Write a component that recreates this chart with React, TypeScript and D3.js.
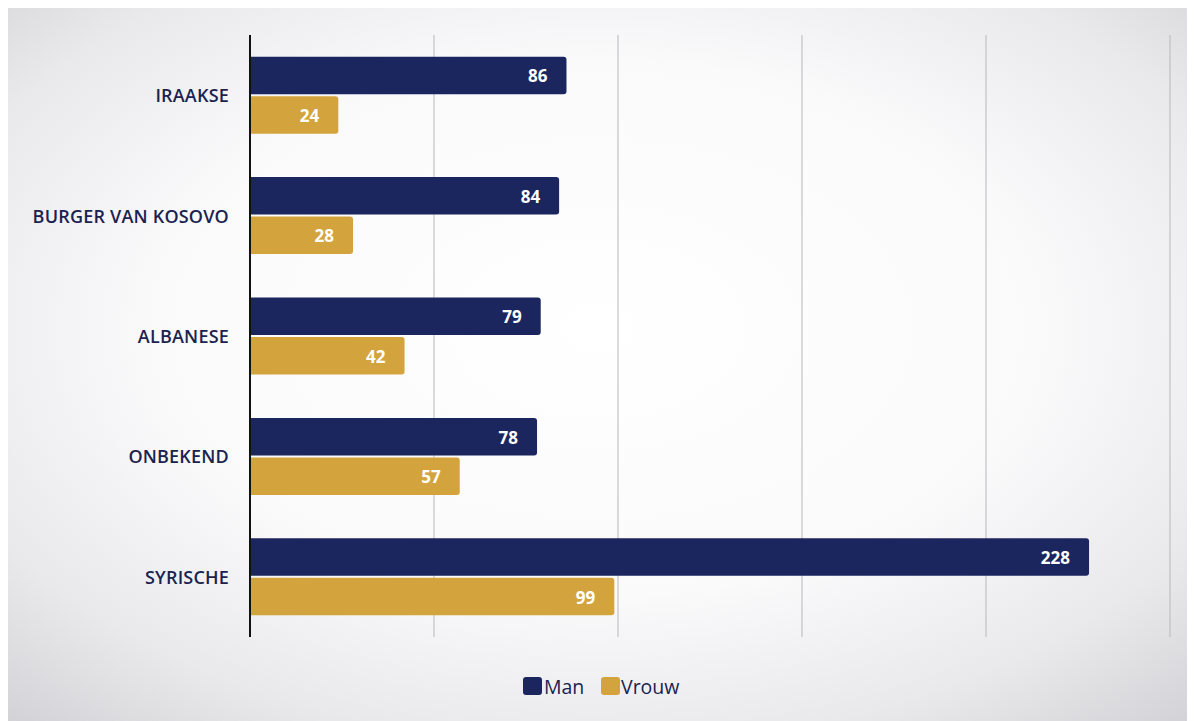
import React from "react";
import * as d3 from "d3";

const categories = ["IRAAKSE", "BURGER VAN KOSOVO", "ALBANESE", "ONBEKEND", "SYRISCHE"];
const manValues = [86, 84, 79, 78, 228];
const vrouwValues = [24, 28, 42, 57, 99];
const seriesNames = ["Man", "Vrouw"];
const seriesColors = ["#1b265e", "#d3a43e"];
const gridTicks = [50, 100, 150, 200, 250];

const W = 1195;
const H = 721;
const FONT = "'Open Sans', 'Noto Sans', sans-serif";

export default function App() {
  const x = d3.scaleLinear().domain([0, 250]).range([250, 1170]);
  const y = d3.scaleBand<string>().domain(categories).range([35, 637]).paddingInner(0).paddingOuter(0);
  const barH = 38.5;
  const series = [manValues, vrouwValues];

  return (
    <svg width={W} height={H} style={{ position: "absolute", left: 0, top: 0 }}>
      <defs>
        <radialGradient id="bg" cx="50%" cy="45%" r="75%">
          <stop offset="0%" stopColor="#ffffff" />
          <stop offset="50%" stopColor="#fafafb" />
          <stop offset="78%" stopColor="#e9e9ec" />
          <stop offset="100%" stopColor="#d2d2d6" />
        </radialGradient>
      </defs>
      <rect x={0} y={0} width={W} height={H} fill="#ffffff" />
      <rect x={8} y={8} width={W - 16} height={H - 8} fill="url(#bg)" />
      {gridTicks.map((t) => (
        <line key={t} x1={x(t)} x2={x(t)} y1={35} y2={637} stroke="#b8b8bc" strokeWidth={1} />
      ))}
      {categories.map((c, i) => {
        const y0 = (y(c) as number) + y.bandwidth() / 2 - barH;
        return (
          <g key={c}>
            <text
              x={229}
              y={(y(c) as number) + y.bandwidth() / 2}
              textAnchor="end"
              dominantBaseline="central"
              fontFamily={FONT}
              fontWeight={600}
              fontSize={18}
              fill="#1a2350"
              letterSpacing={0.2}
            >
              {c}
            </text>
            {series.map((vals, s) => {
              const yy = y0 + s * barH + (s === 1 ? 1 : 0);
              const w = x(vals[i]) - x(0);
              return (
                <g key={s}>
                  <path
                    d={`M${x(0)},${yy} h${w - 3} q3,0 3,3 v${barH - 7} q0,3 -3,3 h${-(w - 3)} z`}
                    fill={seriesColors[s]}
                  />
                  <text
                    x={x(vals[i]) - 19}
                    y={yy + barH / 2}
                    textAnchor="end"
                    dominantBaseline="central"
                    fontFamily={FONT}
                    fontWeight={700}
                    fontSize={17}
                    fill="#ffffff"
                  >
                    {vals[i]}
                  </text>
                </g>
              );
            })}
          </g>
        );
      })}
      <line x1={x(0)} x2={x(0)} y1={35} y2={637} stroke="#111111" strokeWidth={2} />
      <g fontFamily={FONT} fontSize={19.5} fill="#1a2350">
        <rect x={523} y={677} width={19} height={18} rx={3} fill={seriesColors[0]} />
        <text x={544} y={686} dominantBaseline="central">{seriesNames[0]}</text>
        <rect x={601} y={677} width={19} height={18} rx={3} fill={seriesColors[1]} />
        <text x={621} y={686} dominantBaseline="central">{seriesNames[1]}</text>
      </g>
    </svg>
  );
}
